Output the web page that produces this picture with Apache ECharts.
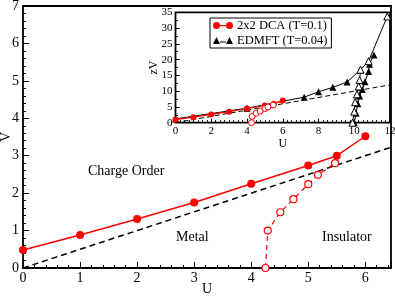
<!DOCTYPE html>
<html><head><meta charset="utf-8">
<script src="https://cdn.jsdelivr.net/npm/echarts@6/dist/echarts.min.js"></script>
<style>html,body{margin:0;padding:0;background:#fff}#c{width:395px;height:296px}</style>
</head><body><div id="c"></div>
<script>
// ---- main panel data ----
const mainDcaU = [0, 1, 2, 3, 4, 5, 5.5, 6];
const mainDcaV = [0.48, 0.88, 1.31, 1.75, 2.25, 2.74, 3.0, 3.52];
const mainOpenU = [4.25, 4.29, 4.51, 4.74, 5.0, 5.17, 5.47];
const mainOpenV = [0, 1.0, 1.49, 1.84, 2.24, 2.49, 2.8];
const mainDiagU = [0, 6.45];
const mainDiagV = [0, 3.225];
// ---- inset data ----
const insetDcaU = [0, 1, 2, 3, 4, 5, 5.5, 6];
const insetDcaZV = [1.0, 1.76, 2.62, 3.5, 4.5, 5.46, 6.0, 7.0];
const insetOpenU = [4.25, 4.29, 4.51, 4.74, 5.0, 5.17, 5.47];
const insetOpenZV = [0, 2.0, 3.0, 3.7, 4.5, 5.0, 5.6];
const edmftU = [0, 4, 7.2, 8, 8.8, 9.6, 10.35];
const edmftZV = [1.2, 4.6, 8.1, 9.8, 11.2, 12.9, 16.8];
const edmftSteepU = [10.0, 10.1, 10.2, 10.3, 10.45, 10.6, 10.8, 10.85, 11.1];
const edmftSteepZV = [0, 3, 6, 8.5, 10.5, 13, 16.2, 18.5, 21.5];
const edmftOpenU = [9.9, 10.0, 10.05, 10.15, 10.25, 10.3, 10.35, 10.8, 11.85];
const edmftOpenZV = [0, 3.5, 6.5, 9, 11.5, 13.5, 16.8, 19.5, 33.7];
const insetDiagU = [0, 12];
const insetDiagZV = [0, 12];
// ---- labels ----
const legendNames = ['2x2 DCA (T=0.1)', 'EDMFT (T=0.04)'];
const regionLabels = ['Charge Order', 'Metal', 'Insulator'];

const FONT = "'Liberation Serif','Times New Roman',serif";
const pts = (xs, ys) => xs.map((x, i) => [x, ys[i]]);
const RED = '#ff0000';

const chart = echarts.init(document.getElementById('c'), null, {renderer: 'canvas'});

const intLabel = v => (Math.abs(v - Math.round(v)) < 1e-9 ? String(Math.round(v)) : '');

const option = {
  animation: false,
  backgroundColor: '#fff',
  textStyle: {fontFamily: FONT, color: '#000'},
  grid: [
    {left: 23, top: 6, right: 4, bottom: 28, show: true, borderColor: '#000', borderWidth: 1.8, backgroundColor: 'transparent', containLabel: false, outerBoundsMode: 'none'},
    {left: 175.5, top: 12.3, width: 214.5, height: 110.4, show: true, borderColor: '#000', borderWidth: 1.8, backgroundColor: '#fff', containLabel: false, outerBoundsMode: 'none'}
  ],
  xAxis: [
    {gridIndex: 0, type: 'value', min: 0, max: 6.45, interval: 1,
     axisLine: {show: false}, splitLine: {show: false},
     axisTick: {inside: true, length: 6, lineStyle: {color: '#000', width: 1}},
     axisLabel: {formatter: intLabel, fontSize: 14, fontFamily: FONT, color: '#000', margin: 3},
     name: 'U', nameLocation: 'middle', nameGap: 14, nameMoveOverlap: false,
     nameTextStyle: {fontSize: 14, fontFamily: FONT, color: '#000'}},
    {gridIndex: 0, type: 'value', min: 0, max: 6.45, interval: 0.2, position: 'bottom',
     axisLine: {show: false}, splitLine: {show: false},
     axisTick: {inside: true, length: 3, lineStyle: {color: '#000', width: 1}},
     axisLabel: {show: false}},
    {gridIndex: 1, type: 'value', min: 0, max: 12, interval: 2,
     axisLine: {show: false}, splitLine: {show: false},
     axisTick: {inside: true, length: 4, lineStyle: {color: '#000', width: 1}},
     minorTick: {show: true, splitNumber: 8, length: 2.5, lineStyle: {color: '#000', width: 1}},
     axisLabel: {fontSize: 11, fontFamily: FONT, color: '#000', margin: 3},
     name: 'U', nameLocation: 'middle', nameGap: 15, nameMoveOverlap: false,
     nameTextStyle: {fontSize: 12, fontFamily: FONT, color: '#000'}}
  ],
  yAxis: [
    {gridIndex: 0, type: 'value', min: 0, max: 7, interval: 1,
     axisLine: {show: false}, splitLine: {show: false},
     axisTick: {inside: true, length: 6, lineStyle: {color: '#000', width: 1}},
     minorTick: {show: true, splitNumber: 5, length: 3, lineStyle: {color: '#000', width: 1}},
     axisLabel: {fontSize: 14, fontFamily: FONT, color: '#000', margin: 4},
     name: 'V', nameLocation: 'middle', nameGap: 10, nameRotate: 90, nameMoveOverlap: false,
     nameTextStyle: {fontSize: 14, fontFamily: FONT, color: '#000'}},
    {gridIndex: 1, type: 'value', min: 0, max: 35, interval: 5,
     axisLine: {show: false}, splitLine: {show: false},
     axisTick: {inside: true, length: 4, lineStyle: {color: '#000', width: 1}},
     minorTick: {show: true, splitNumber: 2, length: 2.5, lineStyle: {color: '#000', width: 1}},
     axisLabel: {fontSize: 11, fontFamily: FONT, color: '#000', margin: 3},
     name: 'zV', nameLocation: 'middle', nameGap: 16, nameRotate: 90, nameMoveOverlap: false,
     nameTextStyle: {fontSize: 12, fontFamily: FONT, color: '#000'}}
  ],
  legend: {
    data: [
      {name: legendNames[0], icon: 'path://M0,3.5 A3.5,3.5 0 1,0 7,3.5 A3.5,3.5 0 1,0 0,3.5 Z M7,3 L13,3 L13,4.2 L7,4.2 Z M13,3.5 A3.5,3.5 0 1,0 20,3.5 A3.5,3.5 0 1,0 13,3.5 Z'},
      {name: legendNames[1], icon: 'path://M0,7 L3.5,0 L7,7 Z M7,4.4 L13,4.4 L13,5.6 L7,5.6 Z M13,7 L16.5,0 L20,7 Z'}
    ],
    orient: 'vertical', left: 210, top: 18, itemWidth: 20, itemHeight: 7, itemGap: 2,
    padding: [1, 4, 1, 3], borderColor: '#000', borderWidth: 1, backgroundColor: '#fff',
    textStyle: {fontSize: 12.5, fontFamily: FONT, color: '#000', padding: [0, 0, 0, -1]},
    selectedMode: false
  },
  graphic: [
    {type: 'text', left: 88, top: 164, style: {text: regionLabels[0], font: "14px 'Liberation Serif', serif", fill: '#000'}},
    {type: 'text', left: 176, top: 230, style: {text: regionLabels[1], font: "14px 'Liberation Serif', serif", fill: '#000'}},
    {type: 'text', left: 322, top: 230, style: {text: regionLabels[2], font: "14px 'Liberation Serif', serif", fill: '#000'}}
  ],
  series: [
    {type: 'line', xAxisIndex: 0, yAxisIndex: 0, data: pts(mainDiagU, mainDiagV), showSymbol: false, symbol: 'none',
     lineStyle: {color: '#000', width: 1.5, type: [6, 4]}, z: 2},
    {type: 'line', xAxisIndex: 0, yAxisIndex: 0, data: pts(mainDcaU, mainDcaV), symbol: 'circle', symbolSize: 8,
     itemStyle: {color: RED}, lineStyle: {color: RED, width: 1.5}, z: 3},
    {type: 'line', xAxisIndex: 0, yAxisIndex: 0, data: pts(mainOpenU, mainOpenV), symbol: 'circle', symbolSize: 7,
     itemStyle: {color: '#fff', borderColor: RED, borderWidth: 1.2}, lineStyle: {color: RED, width: 1.2, type: [5, 4]}, z: 3},
    // inset
    {type: 'line', xAxisIndex: 2, yAxisIndex: 1, data: pts(insetDiagU, insetDiagZV), symbol: 'none',
     lineStyle: {color: '#000', width: 1, type: [5, 3]}, z: 4},
    {name: legendNames[1], type: 'line', xAxisIndex: 2, yAxisIndex: 1, data: pts(edmftU, edmftZV), symbol: 'triangle', symbolSize: 7,
     itemStyle: {color: '#000'}, lineStyle: {color: '#000', width: 1}, z: 5},
    {type: 'line', xAxisIndex: 2, yAxisIndex: 1, data: pts(edmftSteepU, edmftSteepZV), symbol: 'triangle', symbolSize: 7,
     itemStyle: {color: '#000'}, lineStyle: {color: '#000', width: 1}, z: 5},
    {type: 'line', xAxisIndex: 2, yAxisIndex: 1, data: pts(edmftOpenU, edmftOpenZV), symbol: 'triangle', symbolSize: 7,
     itemStyle: {color: '#fff', borderColor: '#000', borderWidth: 1}, lineStyle: {color: '#000', width: 1}, z: 6},
    {name: legendNames[0], type: 'line', xAxisIndex: 2, yAxisIndex: 1, data: pts(insetDcaU, insetDcaZV), symbol: 'circle', symbolSize: 6,
     itemStyle: {color: RED}, lineStyle: {color: RED, width: 1.2}, z: 7},
    {type: 'line', xAxisIndex: 2, yAxisIndex: 1, data: pts(insetOpenU, insetOpenZV), symbol: 'circle', symbolSize: 6,
     itemStyle: {color: '#fff', borderColor: RED, borderWidth: 1}, lineStyle: {color: RED, width: 0.8, type: [3, 2]}, z: 7}
  ]
};
chart.setOption(option);
</script>
</body></html>
